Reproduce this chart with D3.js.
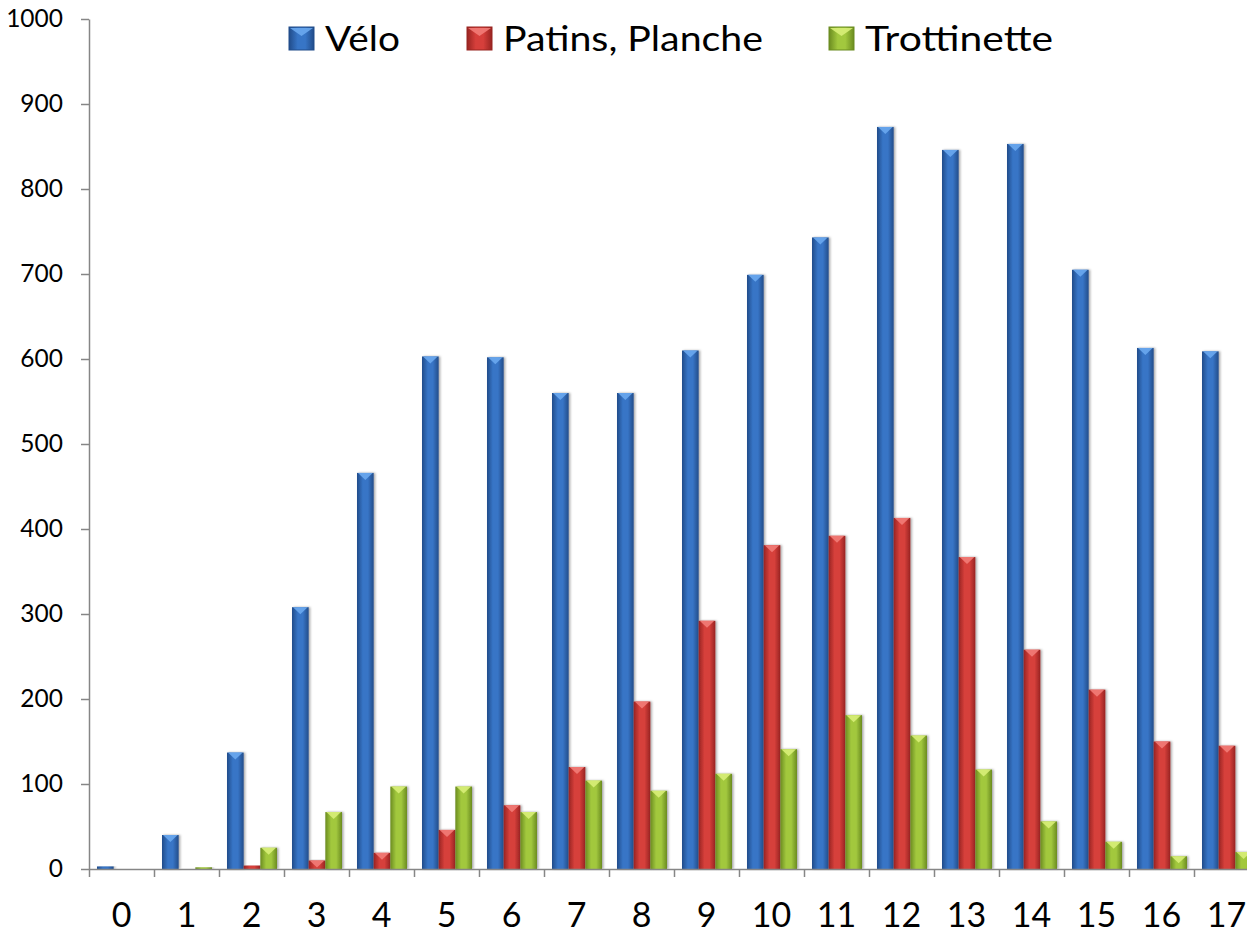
<!DOCTYPE html>
<html>
<head>
<meta charset="utf-8">
<script src="https://cdn.jsdelivr.net/npm/d3@7"></script>
<style>
  body { margin: 0; background: #fff; }
  svg { display: block; }
</style>
</head>
<body>
<div id="container"></div>
<script>
// data
let ages = ["0","1","2","3","4","5","6","7","8","9","10","11","12","13","14","15","16","17"];
let seriesNames = ["Vélo", "Patins, Planche", "Trottinette"];
let velo = [3, 40, 137, 308, 466, 603, 602, 560, 560, 610, 699, 743, 873, 846, 853, 705, 613, 609];
let patins = [0, 0, 4, 10, 19, 46, 75, 120, 197, 292, 381, 392, 413, 367, 258, 211, 150, 145];
let trott = [0, 2, 25, 67, 97, 97, 67, 104, 92, 112, 141, 181, 157, 117, 56, 32, 15, 20];
let yTicks = [0, 100, 200, 300, 400, 500, 600, 700, 800, 900, 1000];

let allSeries = [velo, patins, trott];
let colors = [
  {id: "blue", edge: "#214c8a", mid: "#3775c6", tip: "#6aa8ee"},
  {id: "red", edge: "#982421", mid: "#d63f3b", tip: "#f27c78"},
  {id: "green", edge: "#6b8c20", mid: "#a2c83e", tip: "#d8ee78"}
];

let w = 1247;
let h = 933;
let x0 = 89;       // y axis position
let bandW = 65;

let viz = d3.select("#container")
  .append("svg")
    .attr("width", w)
    .attr("height", h);

let defs = viz.append("defs");
colors.forEach(function(c){
  let g = defs.append("linearGradient").attr("id", "grad-" + c.id)
    .attr("x1", "0%").attr("x2", "100%").attr("y1", "0%").attr("y2", "0%");
  g.append("stop").attr("offset", "0%").attr("stop-color", c.edge);
  g.append("stop").attr("offset", "35%").attr("stop-color", c.mid);
  g.append("stop").attr("offset", "65%").attr("stop-color", c.mid);
  g.append("stop").attr("offset", "100%").attr("stop-color", c.edge);
});
let shadow = defs.append("filter").attr("id", "shadow")
  .attr("x", "-30%").attr("y", "-10%").attr("width", "160%").attr("height", "120%");
shadow.append("feDropShadow").attr("dx", 1.5).attr("dy", 0).attr("stdDeviation", 1.2)
  .attr("flood-color", "#000").attr("flood-opacity", 0.35);

let yScale = d3.scaleLinear().domain([0, 1000]).range([869, 19]);
let xScale = d3.scaleBand().domain(ages).range([x0, x0 + bandW * ages.length]);
let subScale = d3.scaleBand().domain(d3.range(3)).range([8, 58]);
let edgeScale = d3.scaleLinear().domain([0, ages.length]).range([x0, x0 + bandW * ages.length]);

// bars
allSeries.forEach(function(values, si){
  let c = colors[si];
  let grp = viz.append("g").attr("class", "series-" + si);
  let bars = grp.selectAll("g").data(values).enter().append("g")
    .attr("transform", function(d, i){ return "translate(" + (xScale(ages[i]) + subScale(si)) + ",0)"; });
  let bw = subScale.bandwidth();
  bars.append("rect")
    .attr("x", 0)
    .attr("y", function(d){ return yScale(d); })
    .attr("width", bw)
    .attr("height", function(d){ return yScale(0) - yScale(d); })
    .attr("fill", "url(#grad-" + c.id + ")")
    .attr("filter", "url(#shadow)");
  // little bevel notch at the top
  bars.filter(function(d){ return yScale(0) - yScale(d) > 5; })
    .append("path")
    .attr("d", function(d){
      let t = yScale(d);
      return "M1," + t + " L" + (bw - 1) + "," + t + " L" + (bw / 2) + "," + (t + 7) + " Z";
    })
    .attr("fill", c.tip)
    .attr("opacity", 0.9);
});

// y axis
let yAxis = d3.axisLeft(yScale).tickValues(yTicks).tickFormat(d3.format("d"))
  .tickSize(8).tickSizeOuter(0).tickPadding(18);
let yAxisGroup = viz.append("g").attr("transform", "translate(" + x0 + ",0)").call(yAxis);
yAxisGroup.select(".domain").attr("stroke", "#868686").attr("stroke-width", 1.5);
yAxisGroup.selectAll("line").attr("stroke", "#868686").attr("stroke-width", 1.5);
yAxisGroup.selectAll("text").attr("font-family", "Lato").attr("font-size", 24.5).attr("fill", "#000");

// x axis: ticks between categories
let xTickAxis = d3.axisBottom(edgeScale).tickValues(d3.range(0, ages.length + 1)).tickFormat("").tickSize(8).tickSizeOuter(0);
let xTickGroup = viz.append("g").attr("transform", "translate(0," + yScale(0) + ")").call(xTickAxis);
xTickGroup.select(".domain").attr("stroke", "#868686").attr("stroke-width", 1.5);
xTickGroup.selectAll("line").attr("stroke", "#868686").attr("stroke-width", 1.5);

let xAxis = d3.axisBottom(xScale).tickSize(0).tickPadding(0);
let xAxisGroup = viz.append("g").attr("transform", "translate(0," + yScale(0) + ")").call(xAxis);
xAxisGroup.select(".domain").remove();
xAxisGroup.selectAll("text")
  .attr("font-family", "Lato").attr("font-size", 34).attr("fill", "#000")
  .attr("dy", null).attr("y", 58);

// legend
let legendX = [289, 467, 829];
let legendW = [75, 260, 188];
let legend = viz.append("g");
seriesNames.forEach(function(name, i){
  let c = colors[i];
  let lg = legend.append("g").attr("transform", "translate(" + legendX[i] + ",27)");
  lg.append("rect").attr("width", 25).attr("height", 23)
    .attr("fill", "url(#grad-" + c.id + ")").attr("stroke", c.edge).attr("stroke-width", 1);
  lg.append("path").attr("d", "M1,1 L24,1 L12.5,9 Z").attr("fill", c.tip).attr("opacity", 0.9);
  lg.append("text").attr("x", 36).attr("y", 24)
    .attr("font-family", "Lato").attr("font-size", 35).attr("fill", "#000")
    .attr("textLength", legendW[i]).attr("lengthAdjust", "spacingAndGlyphs")
    .text(name);
});
</script>
</body>
</html>
